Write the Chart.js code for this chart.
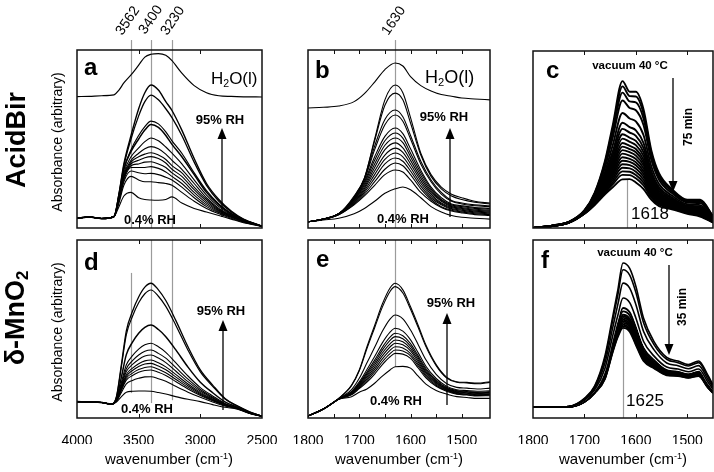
<!DOCTYPE html>
<html><head><meta charset="utf-8">
<script src="https://cdn.jsdelivr.net/npm/chart.js@4.4.0/dist/chart.umd.min.js"></script>
<style>
body{margin:0;background:#fff;width:714px;height:472px;overflow:hidden;position:relative;font-family:"Liberation Sans",Arial,Helvetica,sans-serif;color:#000;}
canvas{position:absolute;left:0;top:0;}
.t{position:absolute;white-space:nowrap;line-height:1;}
.c{transform:translate(-50%,-50%);}
.r{transform:translate(-50%,-50%) rotate(-90deg);}
.l{transform:translate(0,-50%);}
.g{transform-origin:0 100%;transform:rotate(-56deg);font-size:14px;}
.b{font-weight:bold;}
sub{font-size:0.62em;vertical-align:-0.25em;}
sup{font-size:0.6em;vertical-align:0.55em;}
</style></head><body>
<canvas id="cA" width="714" height="472"></canvas>
<canvas id="cB" width="714" height="472"></canvas>
<canvas id="cC" width="714" height="472"></canvas>
<canvas id="cD" width="714" height="472"></canvas>
<canvas id="cE" width="714" height="472"></canvas>
<canvas id="cF" width="714" height="472"></canvas>

<div class="t r b" style="left:16px;top:140px;font-size:27px;">AcidBir</div>
<div class="t r b" style="left:17px;top:318px;font-size:27px;">δ-MnO<sub>2</sub></div>
<div class="t r" style="left:57px;top:142px;font-size:14px;">Absorbance (arbitrary)</div>
<div class="t r" style="left:57px;top:332px;font-size:14px;">Absorbance (arbitrary)</div>

<div class="t b" style="left:84px;top:55px;font-size:24px;">a</div>
<div class="t b" style="left:315px;top:58px;font-size:24px;">b</div>
<div class="t b" style="left:546px;top:58px;font-size:24px;">c</div>
<div class="t b" style="left:84px;top:250px;font-size:24px;">d</div>
<div class="t b" style="left:316px;top:247px;font-size:24px;">e</div>
<div class="t b" style="left:541px;top:248px;font-size:24px;">f</div>

<div class="t g" style="left:124px;top:23px;">3562</div>
<div class="t g" style="left:147px;top:22px;">3400</div>
<div class="t g" style="left:169px;top:23px;">3230</div>
<div class="t g" style="left:390px;top:23px;">1630</div>

<div class="t l" style="left:211px;top:79px;font-size:17px;">H<sub>2</sub>O(l)</div>
<div class="t l" style="left:425px;top:78px;font-size:18px;">H<sub>2</sub>O(l)</div>

<div class="t c b" style="left:220px;top:119px;font-size:13px;">95% RH</div>
<div class="t c b" style="left:444px;top:116px;font-size:13px;">95% RH</div>
<div class="t c b" style="left:221px;top:310px;font-size:13px;">95% RH</div>
<div class="t c b" style="left:451px;top:302px;font-size:13px;">95% RH</div>

<div class="t c b" style="left:150px;top:219px;font-size:13px;">0.4% RH</div>
<div class="t c b" style="left:403px;top:218px;font-size:13px;">0.4% RH</div>
<div class="t c b" style="left:147px;top:408px;font-size:13px;">0.4% RH</div>
<div class="t c b" style="left:396px;top:400px;font-size:13px;">0.4% RH</div>

<div class="t c b" style="left:630px;top:66px;font-size:11.5px;">vacuum 40 °C</div>
<div class="t c b" style="left:635px;top:253px;font-size:11.5px;">vacuum 40 °C</div>
<div class="t r b" style="left:688px;top:127px;font-size:12px;">75 min</div>
<div class="t r b" style="left:682px;top:307px;font-size:12px;">35 min</div>
<div class="t c" style="left:650px;top:213px;font-size:17px;">1618</div>
<div class="t c" style="left:645px;top:400px;font-size:17px;">1625</div>

<div class="t c" style="left:169px;top:458px;font-size:15px;">wavenumber (cm<sup>-1</sup>)</div>
<div class="t c" style="left:399px;top:458px;font-size:15px;">wavenumber (cm<sup>-1</sup>)</div>
<div class="t c" style="left:623px;top:458px;font-size:15px;">wavenumber (cm<sup>-1</sup>)</div>

<script>
// ---------- data (absorbance in arbitrary units, 0..100 of panel height) ----------
const tickLabelsOH = [4000, 3500, 3000, 2500];
const tickLabelsBend = [1800, 1700, 1600, 1500];
const innerTicksOH = [3500, 3000];
const innerTicksBend = [1750, 1700, 1650, 1600, 1550, 1500];
const innerTicksVac = [1700, 1600, 1500];

// panel a : AcidBir, O-H stretch
const aWave = [4000,3900,3800,3700,3660,3620,3562,3500,3450,3400,3340,3280,3230,3150,3050,2950,2850,2750,2650,2500];
const aWater = [73.8,74,74.3,74.8,77.5,81.5,86,91.5,96,97.6,98,97,94,87,80,76,74.3,73.9,73.7,73.6];
const aRH = [
 [5.5,6.2,5.3,6.4,12,18,20,17,16,15.7,15.6,16,17.5,14,11,9,7,5,3,1],
 [5.5,6.2,5.3,6.4,14,24,29,27,26,26,25.5,25,24,20,15,11,8,5.5,3.3,1],
 [5.5,6.2,5.3,6.4,15,26,32,31,30.5,30.7,30,28.5,27,23,17,12,8.5,6,3.5,1],
 [5.5,6.2,5.3,6.4,15.5,27,34,34,34,34.5,33.5,31.5,29,25,18.5,13,9,6.2,3.6,1],
 [5.5,6.2,5.3,6.4,16,28,35,36,37,37.2,36,34,31,27,20,14,9.5,6.5,3.8,1],
 [5.5,6.2,5.3,6.4,16,28.5,36,38,39.5,40.1,39,36.5,33,29,21.5,15,10,6.8,4,1],
 [5.5,6.2,5.3,6.4,16.5,29,37,40,41.5,42.3,41,38.5,35,31,23,16,10.5,7,4.1,1],
 [5.5,6.2,5.3,6.4,17,30,38,42,44.5,45.7,44.5,41.5,38,33,25,17,11,7.2,4.2,1],
 [5.5,6.2,5.3,6.4,17,31,40,45,48.5,50.6,49,45.5,42,36,27,18.5,12,7.5,4.3,1],
 [5.5,6.2,5.3,6.4,18,33,43,50,55,58.1,56.5,52,47,40,30,20,13,8,4.5,1],
 [5.5,6.2,5.3,6.4,18,33,44,52,57,60,58.5,54,49,42,31,21,13.5,8.2,4.6,1],
 [5.5,6.2,5.3,6.4,19,35,50,63,71,74.7,72,67,62,52,37,24,15,9,4.8,1],
 [5.5,6.2,5.3,6.4,19,36,52,67,76,80.3,77.5,71,66,55,39,25,16,9.5,5,1]
];

// panel b : AcidBir, H-O-H bend
const bWave = [1800,1770,1740,1710,1690,1670,1650,1630,1615,1600,1580,1560,1540,1520,1500,1475,1445];
const bWater = [67.4,67.8,68.5,71,75.5,82,89,92.7,91,85,80,77,75,74,73,72.5,72];
const bRH = [
 [3.5,4.5,5.5,8,11,15,19.5,22,23,21.5,17,12,9,7,6,5.5,5],
 [3.5,5,7.5,13,18,24,30,32.6,31.5,27,20,15,11.5,9.5,8.5,7.5,7],
 [3.5,5,7.5,13.5,19,26,33,36.5,35,30,22,16,12,10,9,8,7.5],
 [3.5,5,7.8,14,20,28,36,39.3,37.5,32,23.5,17,13,10.5,9.5,8.5,8],
 [3.5,5,8,14.5,21,30,38.5,42.1,40,34,25,18,13.5,11,10,9,8.5],
 [3.5,5,8,15,22,32,41,44.9,42.5,36,26.5,19,14,11.5,10.5,9.5,9],
 [3.5,5,8,15.5,23,34,44,47.8,45,38,28,20,15,12,11,10,9.5],
 [3.5,5,8,16,24,36,46.5,50.6,48,40,29.5,21,15.5,12.5,11.5,10.5,10],
 [3.5,5,8,16,25,38,49,53.4,50.5,42,31,22,16,13,12,11,10.5],
 [3.5,5,8,16.5,26,40,51.5,56.2,53,44.5,32.5,23,17,13.5,12.5,11.5,11],
 [3.5,5,8,17,27,44,58,63.5,60,50,36,26,19,15,13.5,12.5,12],
 [3.5,5,8,17,27.5,46,61,66.3,62.5,52,37.5,27,20,15.5,14,13,12.5],
 [3.5,5,8,17.5,28,49,69,75.8,72,59,41,29,22,18,16,14.5,13.5],
 [3.5,5,8,18,28,50,72,80.3,76,62,42,30,23,19,17,15,14]
];

// panel c : AcidBir, vacuum 40 C, 75 min
const cWave = [1800,1760,1730,1700,1680,1660,1645,1626,1612,1600,1585,1570,1555,1530,1500,1475,1450];
const cVac = [
 [0,1.5,3.5,10,20,38,58,83,77,77,67,44,31,22,16,16,6.7],
 [0,1.5,3.5,9.9,19.6,37,56,80,74.5,74.3,64.6,42.5,30,21.4,15.6,15.5,6.5],
 [0,1.5,3.4,9.8,19.2,35.8,53.9,76.5,71.5,71,61.7,40.7,28.8,20.7,15.1,14.9,6.3],
 [0,1.4,3.4,9.6,18.6,34.2,51,72,67.8,66.5,58,38.5,27.3,19.7,14.4,14.1,6],
 [0,1.4,3.3,9.4,17.7,31.8,46.7,65,61.9,60.2,52.4,34.9,24.9,18.3,13.4,12.9,5.5],
 [0,1.4,3.3,9.2,17,30,43.2,59.5,57,55.2,48,32.2,23.1,17.2,12.6,12,5.1],
 [0,1.4,3.3,9,16.6,28.8,41,56,53.9,52,45.1,30.4,21.9,16.5,12.1,11.4,4.9],
 [0,1.3,3.2,8.9,16.2,27.7,39,53,51,49.2,42.7,28.9,20.9,15.8,11.7,10.9,4.7],
 [0,1.3,3.2,8.8,15.9,26.9,37.5,50.5,48.7,46.8,40.6,27.6,20,15.3,11.3,10.4,4.5],
 [0,1.3,3.2,8.7,15.6,26,35.9,48,46.4,44.6,38.6,26.3,19.2,14.8,11,10,4.4],
 [0,1.3,3.2,8.7,15.3,25.3,34.7,46,44.6,42.8,37,25.3,18.5,14.4,10.7,9.7,4.2],
 [0,1.3,3.1,8.6,15.1,24.6,33.4,44,42.8,40.9,35.4,24.3,17.9,14,10.4,9.3,4.1],
 [0,1.3,3.1,8.5,14.8,24,32.1,42,40.9,39,33.7,23.3,17.2,13.6,10.1,9,4],
 [0,1.3,3.1,8.5,14.6,23.3,30.9,40,39.1,37.2,32.1,22.3,16.5,13.2,9.8,8.6,3.8],
 [0,1.3,3.1,8.4,14.3,22.6,29.6,38,37.3,35.4,30.5,21.3,15.8,12.8,9.5,8.3,3.7],
 [0,1.2,3.1,8.3,14.1,21.9,28.4,36,35.5,33.6,28.9,20.3,15.2,12.3,9.2,7.9,3.6],
 [0,1.2,3.1,8.2,13.8,21.2,27.1,34,33.7,31.8,27.3,19.3,14.5,11.9,8.9,7.6,3.4],
 [0,1.2,3,8.2,13.6,20.5,25.8,32,31.8,29.9,25.6,18.3,13.8,11.5,8.6,7.3,3.3],
 [0,1.2,3,8.1,13.3,19.9,24.6,30,29.9,28.1,24,17.3,13.1,11.1,8.4,6.9,3.2],
 [0,1.2,3,8,13,19,23,27.5,27.6,25.7,22,16,12.3,10.6,8,6.5,3]
];

// panel d : delta-MnO2, O-H stretch
const dWave = [4000,3900,3800,3720,3680,3640,3600,3550,3500,3450,3400,3340,3280,3200,3100,3000,2900,2800,2700,2600,2500];
const dRH = [
 [9.2,9,8.7,7.8,9,12,14.5,15,15.2,15.2,15,14.3,13.5,12,10.5,9.2,7.5,6,5,2.5,1],
 [9.2,9,8.7,7.8,9.4,14.4,19.2,21.1,22.3,23.1,23.2,22.1,20.6,17.8,14.5,11.6,9,6.7,5.2,2.6,1],
 [9.2,9,8.7,7.8,9.6,15.6,21.3,23.9,25.7,26.7,27,25.7,23.9,20.5,16.3,12.7,9.7,7,5.4,2.7,1],
 [9.2,9,8.7,7.8,9.7,16.1,22.3,25.2,27.2,28.4,28.8,27.4,25.4,21.8,17.2,13.2,10,7.1,5.4,2.7,1],
 [9.2,9,8.7,7.8,9.8,16.7,23.4,26.7,28.9,30.3,30.7,29.2,27.1,23.1,18.1,13.8,10.3,7.3,5.5,2.8,1],
 [9.2,9,8.7,7.8,9.9,17.2,24.5,28,30.5,32.1,32.6,31,28.7,24.5,19.1,14.4,10.7,7.5,5.5,2.8,1],
 [9.2,9,8.7,7.8,10,18,26.1,30.1,32.9,34.8,35.4,33.7,31.1,26.4,20.4,15.2,11.2,7.7,5.6,2.8,1],
 [9.2,9,8.7,7.8,10.1,18.9,27.7,32.2,35.4,37.5,38.2,36.3,33.6,28.4,21.8,16,11.7,7.9,5.7,2.9,1],
 [9.2,9,8.7,7.8,10.3,20,29.9,35,38.7,41.1,42,40,36.9,31.1,23.6,17.1,12.4,8.2,5.8,2.9,1],
 [9.2,9,8.7,7.8,10.8,23,35.6,42.6,47.6,50.9,52.2,49.7,45.7,38.4,28.6,20.1,14.2,9.1,6.1,3.1,1],
 [9.2,9,8.7,7.8,11.8,28.9,46.8,57.2,64.7,69.8,71.9,68.4,62.7,52.3,38.1,25.9,17.8,10.7,6.7,3.4,1],
 [9.2,9,8.7,7.8,12,30,49,60,68,73.5,75.7,72,66,55,40,27,18.5,11,6.8,3.5,1]
];

// panel e : delta-MnO2, H-O-H bend
const eWave = [1800,1770,1740,1715,1700,1685,1670,1655,1640,1630,1615,1600,1585,1570,1550,1530,1510,1490,1470,1445];
const eRH = [
 [1.1,5,10.5,12,14.5,16.3,19.5,23.5,27,28.8,29,28,23.5,19,15.5,13.5,12,11.5,11,11],
 [1.1,5,10.6,13,16.5,20.1,24.7,30,34.4,36.3,35.9,33.5,28.1,22.5,17.8,15,13.3,12.9,12.4,12.5],
 [1.1,5,10.6,13.3,17,21,26,31.6,36.2,38.2,37.6,34.9,29.2,23.4,18.4,15.4,13.7,13.2,12.7,12.9],
 [1.1,5,10.6,13.6,17.5,22,27.3,33.2,38,40,39.3,36.2,30.3,24.3,19,15.8,14,13.5,13.1,13.2],
 [1.1,5,10.6,13.8,18,23,28.6,34.9,39.9,42,41.1,37.7,31.5,25.2,19.6,16.2,14.4,13.9,13.4,13.6],
 [1.1,5,10.7,14.1,18.5,23.9,29.9,36.5,41.7,43.8,42.8,39,32.6,26,20.1,16.5,14.7,14.2,13.8,14],
 [1.1,5,10.7,14.3,19,24.8,31.2,38.1,43.6,45.7,44.5,40.4,33.8,26.9,20.7,16.9,15,14.6,14.1,14.4],
 [1.1,5,10.7,14.6,19.5,25.8,32.5,39.7,45.4,47.6,46.2,41.8,34.9,27.8,21.3,17.3,15.4,14.9,14.4,14.8],
 [1.1,5,10.7,15,20.3,27.2,34.5,42.2,48.2,50.4,48.8,43.9,36.6,29.1,22.2,17.9,15.9,15.4,15,15.3],
 [1.1,5,10.8,16,22.3,31,39.7,48.7,55.6,57.9,55.7,49.4,41.2,32.7,24.5,19.4,17.2,16.8,16.3,16.8],
 [1.1,5,11,18.2,26.5,39,50.7,62.3,71.1,73.8,70.2,61.1,50.8,40.1,29.4,22.6,20.1,19.7,19.2,20],
 [1.1,5,11,18.5,27,40,52,64,73,75.7,72,62.5,52,41,30,23,20.4,20,19.6,20.4]
];

// panel f : delta-MnO2, vacuum 40 C, 35 min
const fWave = [1800,1760,1730,1700,1680,1660,1645,1635,1625,1612,1600,1585,1565,1540,1518,1498,1478,1460,1450];
const fVac = [
 [6.2,6.2,6.5,11,18,35,57,72,87.1,84,74,56,43,34,32,30,32,24,18.7],
 [6.2,6.2,6.5,10.8,17.6,33.6,54.9,69.2,83.3,80.3,70.6,53.5,41.4,33,31.1,29.2,31.1,23.3,18.2],
 [6.2,6.2,6.4,10.4,16.8,31,50.8,63.8,75.8,73,63.8,48.6,38.4,30.9,29.4,27.7,29.4,21.8,17.2],
 [6.2,6.2,6.4,9.9,15.8,28,46.2,57.7,67.4,64.8,56.2,43,34.9,28.6,27.5,26,27.5,20.2,16.2],
 [6.2,6.2,6.4,9.8,15.5,27,44.7,55.7,64.6,62.1,53.7,41.2,33.8,27.8,26.8,25.4,26.8,19.7,15.8],
 [6.2,6.2,6.4,9.6,15.2,26,43.1,53.6,61.8,59.4,51.1,39.4,32.6,27.1,26.2,24.8,26.2,19.1,15.4],
 [6.2,6.2,6.4,9.5,15,25.3,42.1,52.3,59.9,57.6,49.4,38.1,31.8,26.6,25.7,24.4,25.7,18.8,15.2],
 [6.2,6.2,6.3,9.4,14.8,24.6,41.1,50.9,58,55.7,47.7,36.9,31,26,25.3,24,25.3,18.4,15],
 [6.2,6.2,6.3,9.4,14.7,24.3,40.6,50.2,57.1,54.8,46.9,36.3,30.7,25.8,25.1,23.8,25.1,18.2,14.8],
 [6.2,6.2,6.3,9.3,14.6,24,40.1,49.5,56.2,53.9,46,35.7,30.3,25.5,24.9,23.6,24.9,18.1,14.7],
 [6.2,6.2,6.3,9.3,14.5,23.6,39.5,48.8,55.2,53,45.2,35,29.9,25.3,24.7,23.4,24.7,17.9,14.6],
 [6.2,6.2,6.3,9.2,14.4,23.3,39,48.2,54.3,52.1,44.3,34.4,29.5,25,24.4,23.3,24.4,17.7,14.5],
 [6.2,6.2,6.3,9.2,14.3,23,38.5,47.5,53.4,51.2,43.5,33.8,29.2,24.8,24.2,23.1,24.2,17.5,14.4],
 [6.2,6.2,6.3,9.1,14.2,22.6,38,46.8,52.4,50.2,42.6,33.2,28.7,24.5,24,22.9,24,17.3,14.2],
 [6.2,6.2,6.3,9,14.1,22.3,37.5,46.2,51.5,49.4,41.8,32.6,28.4,24.3,23.8,22.7,23.8,17.2,14.1],
 [6.2,6.2,6.3,9,14,22,37,45.5,50.6,48.5,41,32,28,24,23.6,22.5,23.6,17,14]
];

// ---------- drawing ----------
const FONT = '"Liberation Sans", Arial, Helvetica, sans-serif';

const deco = {
  id: 'deco',
  beforeDatasetsDraw(chart, args, o) {
    const ctx = chart.ctx, xs = chart.scales.x, ys = chart.scales.y, a = chart.chartArea;
    ctx.save();
    ctx.strokeStyle = '#9b9b9b';
    ctx.lineWidth = 1.2;
    (o.refs || []).forEach(r => {
      const px = Math.round(xs.getPixelForValue(r.x)) + 0.5;
      const y0 = r.top != null ? ys.getPixelForValue(r.top) : a.top;
      const y1 = r.bot != null ? ys.getPixelForValue(r.bot) : a.bottom;
      ctx.beginPath(); ctx.moveTo(px, y0); ctx.lineTo(px, y1); ctx.stroke();
    });
    ctx.restore();
  },
  afterDatasetsDraw(chart, args, o) {
    const ctx = chart.ctx, xs = chart.scales.x, a = chart.chartArea;
    ctx.save();
    ctx.strokeStyle = '#111';
    ctx.lineWidth = 1.5;
    ctx.strokeRect(a.left, a.top, a.width, a.height);
    ctx.lineWidth = 1;
    (o.ticks || []).forEach(v => {
      const px = Math.round(xs.getPixelForValue(v)) + 0.5;
      ctx.beginPath();
      ctx.moveTo(px, a.top); ctx.lineTo(px, a.top + 4);
      ctx.moveTo(px, a.bottom); ctx.lineTo(px, a.bottom - 4);
      ctx.stroke();
    });
    ctx.fillStyle = '#000';
    ctx.strokeStyle = '#000';
    ctx.lineWidth = 1.3;
    (o.arrows || []).forEach(ar => {
      const dir = ar.y1 < ar.y0 ? -1 : 1;
      const hl = 11, hw = 4.5;
      ctx.beginPath();
      ctx.moveTo(ar.x, ar.y0); ctx.lineTo(ar.x, ar.y1 - dir * hl);
      ctx.stroke();
      ctx.beginPath();
      ctx.moveTo(ar.x, ar.y1);
      ctx.lineTo(ar.x - hw, ar.y1 - dir * hl);
      ctx.lineTo(ar.x + hw, ar.y1 - dir * hl);
      ctx.closePath(); ctx.fill();
    });
    ctx.restore();
  }
};

function panel(id, o) {
  const datasets = o.series.map((vals, i) => ({
    data: vals.map((v, j) => ({ x: o.wave[j], y: v })),
    borderColor: (o.colors && o.colors[i]) || '#000',
    borderWidth: (o.widths && o.widths[i]) || o.lw || 1.1,
    pointRadius: 0,
    fill: false,
    cubicInterpolationMode: 'monotone'
  }));
  const hasLabels = !!o.labels;
  const xScale = {
    type: 'linear', reverse: true, min: o.min, max: o.max, display: hasLabels,
    grid: { display: false }, border: { display: false },
    ticks: { color: '#000', font: { family: FONT, size: 14 }, padding: 7, maxRotation: 0, autoSkip: false, callback: v => String(v) }
  };
  if (hasLabels) {
    xScale.afterBuildTicks = s => { s.ticks = o.labels.map(v => ({ value: v })); };
    xScale.afterFit = s => { s.height = 26; };
  }
  new Chart(document.getElementById(id), {
    type: 'line',
    data: { datasets },
    options: {
      responsive: false,
      animation: false,
      events: [],
      layout: { padding: { left: o.box[0], top: o.box[1], right: 714 - o.box[2], bottom: 472 - o.box[3] - (hasLabels ? 26 : 0) } },
      plugins: {
        legend: { display: false },
        tooltip: { enabled: false },
        deco: { refs: o.refs, ticks: o.ticks, arrows: o.arrows }
      },
      scales: {
        x: xScale,
        y: { min: 0, max: 100, display: false }
      }
    },
    plugins: [deco]
  });
}

panel('cA', {
  wave: aWave, series: [aWater].concat(aRH), min: 2500, max: 4000, box: [77, 50, 262, 228],
  widths: [1.2,1.1,1.1,1.1,1.1,1.1,1.1,1.1,1.1,1.1,1.5,1.2,1.3,1.4], ticks: innerTicksOH,
  refs: [{ x: 3562, top: 105.6 }, { x: 3400, top: 105.6 }, { x: 3230, top: 105.6 }],
  arrows: [{ x: 222, y0: 217, y1: 128 }]
});
panel('cB', {
  wave: bWave, series: [bWater].concat(bRH), min: 1445, max: 1800, box: [308, 50, 490, 228],
  lw: 1.1, ticks: innerTicksBend,
  refs: [{ x: 1630, top: 105.6 }],
  arrows: [{ x: 450, y0: 217, y1: 128 }]
});
panel('cC', {
  wave: cWave, series: cVac, min: 1450, max: 1800, box: [533, 51, 713, 228],
  lw: 1.9, ticks: innerTicksVac,
  refs: [{ x: 1618, top: 27.5 }],
  arrows: [{ x: 673, y0: 78, y1: 192 }]
});
panel('cD', {
  wave: dWave, series: dRH, min: 2500, max: 4000, box: [77, 240, 262, 418], labels: tickLabelsOH,
  lw: 1.1, widths: [1.1,1.1,1.1,1.1,1.1,1.1,1.1,1.1,1.1,1.5,1.2,1.3], ticks: innerTicksOH,
  refs: [{ x: 3562, top: 81.5, bot: 14 }, { x: 3400, bot: 8.4 }, { x: 3230, bot: 10 }],
  arrows: [{ x: 223, y0: 410, y1: 320 }]
});
panel('cE', {
  wave: eWave, series: eRH, min: 1445, max: 1800, box: [308, 240, 490, 418], labels: tickLabelsBend,
  lw: 1.1, ticks: innerTicksBend,
  refs: [{ x: 1630, bot: 28.8 }],
  arrows: [{ x: 447, y0: 405, y1: 313 }]
});
panel('cF', {
  wave: fWave, series: fVac, min: 1450, max: 1800, box: [533, 240, 713, 418], labels: tickLabelsBend,
  lw: 1.8, colors: [null,null,null,null,'#ffffff'], widths: [1.6,1.6,1.6,1.6,1.0], ticks: innerTicksVac,
  refs: [{ x: 1625, top: 50.6 }],
  arrows: [{ x: 669, y0: 265, y1: 355 }]
});
</script>
</body></html>
